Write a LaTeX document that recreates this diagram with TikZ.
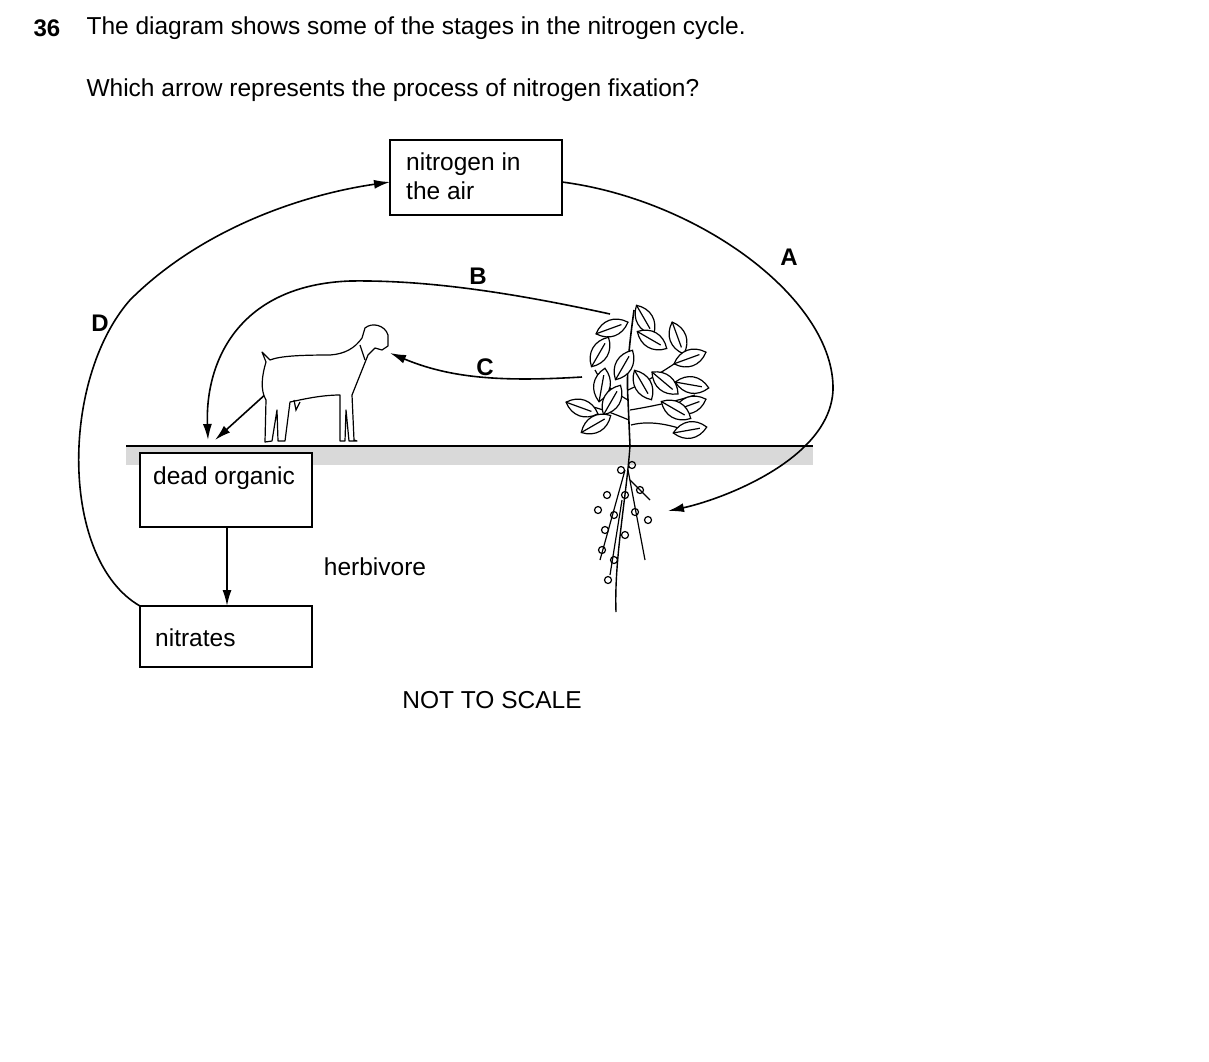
\documentclass[tikz,border=0pt]{standalone}
\usepackage{fontspec}
\setmainfont{Liberation Sans}
\usetikzlibrary{arrows.meta}
\begin{document}
\begin{tikzpicture}[x=1pt,y=-1pt,
  box/.style={draw,line width=1.5pt},
  txt/.style={font=\fontsize{24.5}{29}\selectfont},
  lbl/.style={font=\fontsize{24}{29}\selectfont\bfseries},
  arr/.style={line width=1.6pt,-{Latex[length=16pt,width=9pt]}},
  thin/.style={line width=1.2pt},
  leaf/.pic={\draw[thin,fill=white] (-17,0) .. controls (-7,-11) and (7,-11) .. (17,0) .. controls (7,11) and (-7,11) .. (-17,0) -- cycle; \draw[thin] (-17,0) -- (10,0);}]
\useasboundingbox (0,0) rectangle (1209,1061);
\node[lbl,anchor=west] (q) at (30,28) {36};
\node[txt,anchor=west] (t1) at (83,28) {The diagram shows some of the stages in the nitrogen cycle.};
\node[txt,anchor=west] (t2) at (83,90) {Which arrow represents the process of nitrogen fixation?};
% ground
\fill[black!15] (126,446) rectangle (813,465);
\draw[line width=1.5pt] (126,446) -- (813,446);
% boxes
\draw[box] (390,140) rectangle (562,215);
\node[txt,anchor=north west,align=left,inner sep=0pt] (air) at (406,153) {nitrogen in\\the air};
\coordinate (airL) at (390,182); \coordinate (airR) at (562,182);
\draw[box,fill=white] (140,453) rectangle (312,527);
\node[txt,anchor=west,inner sep=0pt] (dead) at (153,478) {dead organic};
\draw[box] (140,606) rectangle (312,667);
\node[txt,anchor=west,inner sep=0pt] (nit) at (155,638) {nitrates};
\coordinate (deadB) at (227,527); \coordinate (nitT) at (227,606);
\draw[arr] (deadB) -- (nitT);
% arrows
\coordinate (aEnd) at (668,511);
\draw[arr] (airR) .. controls (700,200) and (835,300) .. (833,390) .. controls (830,460) and (720,500) .. (aEnd);
\coordinate (nitTL) at (140,606);
\draw[arr] (nitTL) .. controls (60,560) and (60,380) .. (130,300) .. controls (200,230) and (300,195) .. (airL);
\coordinate (bS) at (610,314); \coordinate (bE) at (208,440);
\draw[arr] (bS) .. controls (500,290) and (420,280) .. (350,281) .. controls (240,285) and (205,360) .. (bE);
\coordinate (cS) at (582,377); \coordinate (cE) at (390,353);
\draw[arr] (cS) .. controls (500,382) and (450,378) .. (cE);
\coordinate (gS) at (268,392); \coordinate (gE) at (215,440);
\draw[arr] (gS) -- (gE);
% labels
\node[lbl] (lA) at (789,257) {A};
\node[lbl] (lB) at (478,276) {B};
\node[lbl] (lC) at (485,367) {C};
\node[lbl] (lD) at (100,323) {D};
\node[txt] (herb) at (375,567) {herbivore};
\node[txt] (nts) at (492,700) {NOT TO SCALE};
% goat
\draw[thin,fill=white,line join=round]
 (266,362) -- (262,352) -- (270,360) .. controls (280,356) and (300,355) .. (330,355)
 .. controls (345,354) and (355,348) .. (362,338) -- (365,328) .. controls (372,322) and (385,325) .. (388,335)
 -- (388,346) -- (382,350) -- (375,348) -- (368,355) .. controls (362,370) and (356,385) .. (352,395)
 -- (354,440) -- (357,441) -- (349,441) -- (346,410) -- (345,441) -- (340,441) -- (340,395)
 .. controls (320,395) and (300,400) .. (290,402) -- (285,441) -- (278,441) -- (277,410) -- (272,441) -- (265,442)
 -- (266,400) .. controls (260,390) and (262,375) .. (266,362) -- cycle;
\draw[thin] (360,345) -- (365,360);
\draw[thin] (294,400) -- (296,410) -- (300,402);
% plant
\draw[line width=1.6pt] (630,446) -- (628,400) .. controls (626,370) and (630,340) .. (634,310);
\draw[line width=1.4pt] (630,446) .. controls (626,500) and (614,560) .. (616,612);
\draw[thin] (628,400) .. controls (610,390) and (600,380) .. (595,370);
\draw[thin] (628,390) .. controls (650,380) and (665,370) .. (680,360);
\draw[thin] (629,420) .. controls (605,410) and (590,405) .. (580,405);
\draw[thin] (630,410) .. controls (660,405) and (680,400) .. (695,395);
\draw[thin] (631,425) .. controls (650,420) and (670,425) .. (685,430);
\foreach \x/\y/\a in {645/320/-60,612/328/20,652/340/-30,600/352/60,678/338/-70,690/358/20,
  602/385/80,582/408/-20,643/385/-60,665/383/-40,692/385/-10,690/405/20,612/400/60,
  596/424/30,690/430/10,676/410/-30,624/365/60}
  \pic[rotate=\a] at (\x,\y) {leaf};
\foreach \x/\y in {621/470,632/465,607/495,625/495,640/490,598/510,614/515,635/512,648/520,605/530,625/535,602/550,614/560,608/580}
  \draw[thin] (\x,\y) circle (3.5pt);
\draw[thin] (625,470) -- (600,560); \draw[thin] (628,470) -- (645,560);
\draw[thin] (622,500) -- (610,575); \draw[thin] (630,480) -- (650,500);
\end{tikzpicture}
\end{document}
